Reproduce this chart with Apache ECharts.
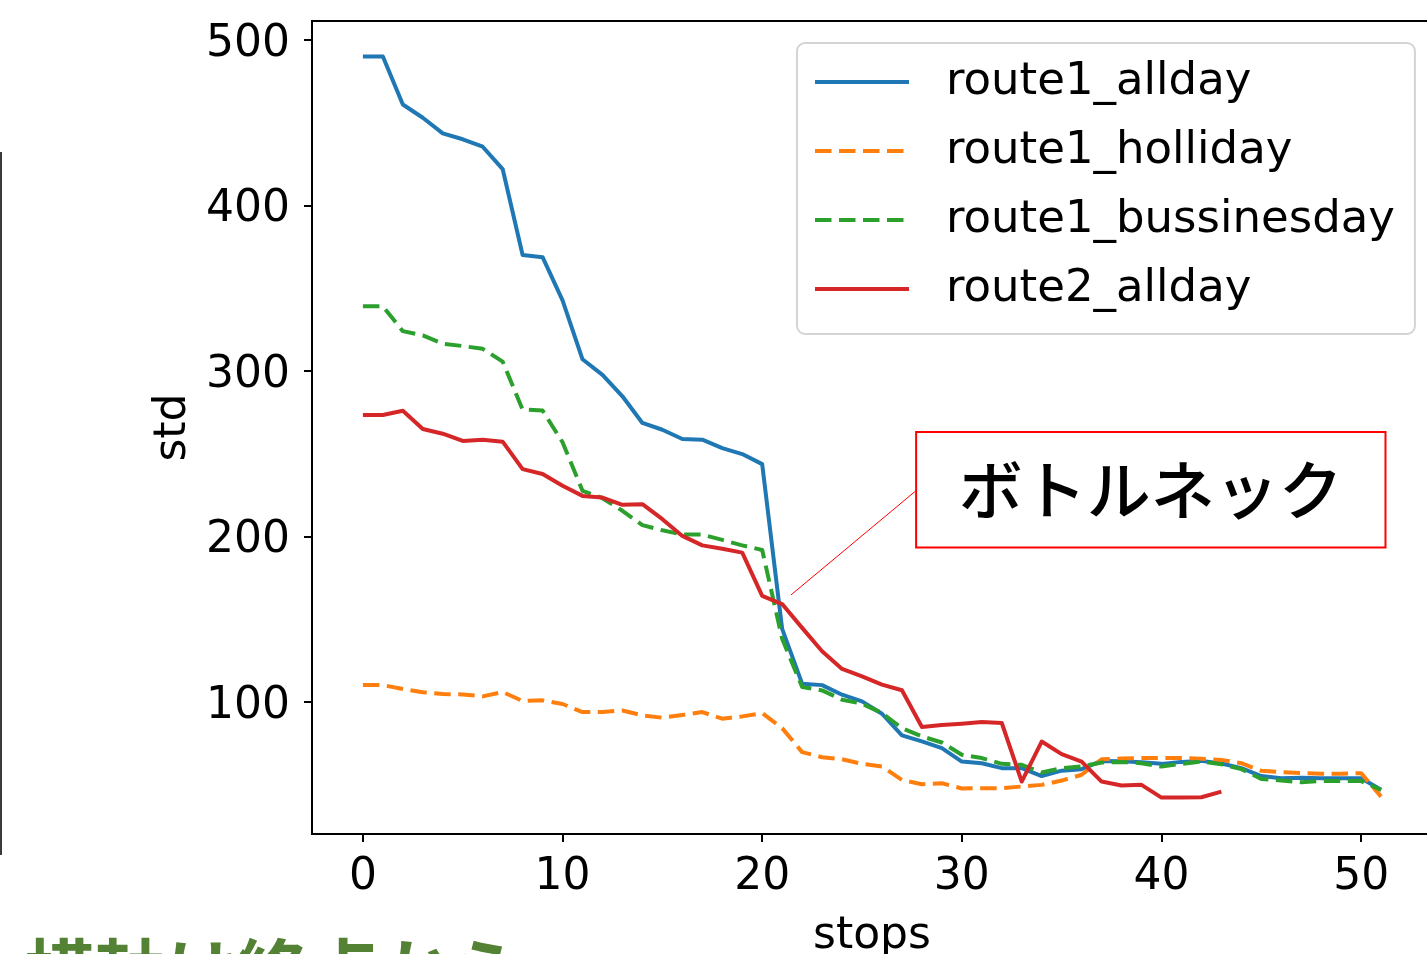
<!DOCTYPE html>
<html>
<head>
<meta charset="utf-8">
<title>std per stop</title>
<script src="https://cdn.jsdelivr.net/npm/echarts@6/dist/echarts.min.js"></script>
<style>
  html, body { margin: 0; padding: 0; background: #ffffff; }
  #chart { width: 1427px; height: 954px; }
</style>
</head>
<body>
<div id="chart"></div>
<script>
// Stops counted back from the terminal
const stops = [0,1,2,3,4,5,6,7,8,9,10,11,12,13,14,15,16,17,18,19,20,21,22,23,24,25,
  26,27,28,29,30,31,32,33,34,35,36,37,38,39,40,41,42,43,44,45,46,47,48,49,50,51];

const route1Allday = [490,490,461,453,443.6,440,435.5,422,370,368.7,342.6,307,297.6,284.6,
  268.5,264.4,258.8,258.4,253.3,249.7,243.6,144,110.9,110,104.2,100.2,92.7,79.6,76,71.9,
  63.8,62.8,59.8,59.8,55,58.3,59.2,64.2,64,63.4,62.4,63.6,64.2,62.6,59.8,55,53.7,54,53.7,
  53.7,53.7,46.7];

const route1Holliday = [110.1,110,107.7,105.7,104.6,104.4,103.2,105.8,100.4,100.8,98.6,93.7,
  93.7,94.7,91.7,90.3,91.9,93.7,89.7,91.1,93.1,84,69.5,66.4,65.2,62.4,60.8,52.7,50.1,50.7,
  47.5,47.7,47.7,48.7,49.7,52.3,55.8,65.2,65.6,66,65.9,65.9,65.5,64.8,62.8,58.2,57.4,56.8,
  56.4,56.4,56.8,42.6];

const route1Bussinesday = [339,339,324,321.4,316.4,315,313.3,305.6,276.6,276,256.8,227.5,223,
  215.4,206.7,203.6,201,201,197.8,194.5,191.7,138,108.9,106.8,101.2,98.8,93.1,84,79,75.3,
  67.9,65.9,62.4,61.8,57.2,59.8,60.8,63.2,63.6,62.8,60.8,62.4,63.8,62.2,59.2,53.3,52.3,51.3,
  52,52,52,46.7];

const route2Allday = [273.3,273.3,275.9,264.8,262,257.6,258.4,257.2,240.6,237.6,230.5,224.4,
  223.4,219,219.4,210.3,200.2,194.5,192.5,190.1,164,159,144.6,130.5,119.8,115.3,110.3,106.9,
  84.7,85.9,86.7,87.7,87.1,51.7,75.9,68.3,63.8,51.7,49.3,49.7,42,42,42.2,45.6];

const xTicks = [0, 10, 20, 30, 40, 50];
const yTicks = [100, 200, 300, 400, 500];

const seriesNames = ['route1_allday', 'route1_holliday', 'route1_bussinesday', 'route2_allday'];
const noteText = 'ボトルネック';
const sideText = '横軸は終点から';

function pairs(values) {
  return values.map((v, i) => [stops[i], v]);
}

const FONT = 'DejaVu Sans';
const JP_FONT = '"Noto Sans CJK JP", "Noto Sans CJK SC", sans-serif';
const DASH = [16.5, 7.5];
const LW = 4;

const chart = echarts.init(document.getElementById('chart'), null, { renderer: 'canvas' });

const option = {
  backgroundColor: '#ffffff',
  animation: false,
  textStyle: { fontFamily: FONT },
  grid: {
    left: 312, top: 21, width: 1120, height: 813,
    containLabel: false,
    outerBoundsMode: 'none',
    show: true, borderColor: '#000000', borderWidth: 2, backgroundColor: 'transparent'
  },
  xAxis: {
    type: 'value',
    min: -2.55, max: 53.55,
    name: 'stops',
    nameLocation: 'middle',
    nameGap: 81,
    nameTextStyle: { fontFamily: FONT, fontSize: 44, color: '#000' },
    axisLine: { show: false, onZero: false },
    splitLine: { show: false },
    axisTick: { show: true, inside: false, length: 8, lineStyle: { color: '#000', width: 2 }, customValues: xTicks },
    axisLabel: { show: true, margin: 22, fontFamily: FONT, fontSize: 44, color: '#000', customValues: xTicks }
  },
  yAxis: {
    type: 'value',
    min: 20.0, max: 511.5,
    name: 'std',
    nameLocation: 'middle',
    nameRotate: 90,
    nameGap: 115,
    nameTextStyle: { fontFamily: FONT, fontSize: 44, color: '#000' },
    axisLine: { show: false, onZero: false },
    splitLine: { show: false },
    axisTick: { show: true, inside: false, length: 8, lineStyle: { color: '#000', width: 2 }, customValues: yTicks },
    axisLabel: {
      show: true, margin: 22, verticalAlign: 'top', lineHeight: 9,
      fontFamily: FONT, fontSize: 44, color: '#000', customValues: yTicks
    }
  },
  legend: {
    orient: 'vertical',
    left: 797, top: 43,
    padding: [14, 20, 20, 16],
    itemWidth: 94, itemHeight: 14, itemGap: 19,
    backgroundColor: '#ffffff',
    borderColor: '#d4d4d4', borderWidth: 2, borderRadius: 8,
    data: seriesNames,
    itemStyle: { opacity: 0, borderWidth: 0 },
    lineStyle: { width: LW },
    textStyle: { fontFamily: FONT, fontSize: 45, color: '#000', lineHeight: 50, padding: [0, 0, 0, 32] }
  },
  series: [
    {
      name: seriesNames[0], type: 'line', data: pairs(route1Allday),
      symbol: 'none', color: '#1f77b4',
      lineStyle: { width: LW, color: '#1f77b4', type: 'solid', join: 'round' }
    },
    {
      name: seriesNames[1], type: 'line', data: pairs(route1Holliday),
      symbol: 'none', color: '#ff7f0e',
      lineStyle: { width: LW, color: '#ff7f0e', type: DASH, cap: 'butt', join: 'round' }
    },
    {
      name: seriesNames[2], type: 'line', data: pairs(route1Bussinesday),
      symbol: 'none', color: '#2ca02c',
      lineStyle: { width: LW, color: '#2ca02c', type: DASH, cap: 'butt', join: 'round' }
    },
    {
      name: seriesNames[3], type: 'line', data: pairs(route2Allday),
      symbol: 'none', color: '#d62728',
      lineStyle: { width: LW, color: '#d62728', type: 'solid', join: 'round' },
      // bottleneck callout: leader line from the drop to the label box
      markLine: {
        silent: true, symbol: ['none', 'none'],
        label: { show: false },
        lineStyle: { color: '#ff0000', width: 1, type: 'solid' },
        emphasis: { disabled: true },
        data: [[{ coord: [21.44, 164.5] }, { coord: [27.71, 227.6] }]]
      },
      markArea: {
        silent: true,
        itemStyle: { color: '#ffffff', borderColor: '#ff0000', borderWidth: 2 },
        label: { show: true, position: 'inside', fontFamily: JP_FONT, fontSize: 64, fontWeight: 500, color: '#000000' },
        emphasis: { disabled: true },
        data: [[{ name: noteText, coord: [27.71, 263.1] }, { coord: [51.22, 193.2] }]]
      }
    }
  ],
  graphic: [
    {
      type: 'line', silent: true,
      shape: { x1: 1, y1: 152, x2: 1, y2: 855 },
      style: { stroke: '#3a3a3a', lineWidth: 2 }
    },
    {
      type: 'text', silent: true, left: 24, top: 936,
      style: { text: sideText, font: 'bold 71px ' + JP_FONT, fill: '#548235' }
    }
  ]
};

chart.setOption(option);
</script>
</body>
</html>
